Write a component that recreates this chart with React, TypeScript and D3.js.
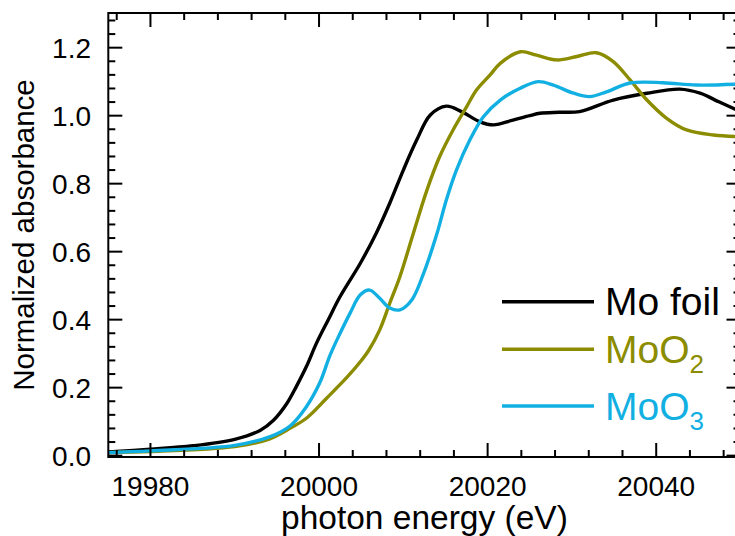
import React from "react";
import * as d3 from "d3";

// ---- data ----
const moFoilE = [19975, 19980, 19985, 19990, 19993, 19994.6, 19996.2, 19997.3, 19998.5, 19999.7, 20001.1, 20002.5, 20004.9, 20006.8, 20008.4, 20010.0, 20011.6, 20013.2, 20015.1, 20016.9, 20019.1, 20020.7, 20023.0, 20025.0, 20026.2, 20028.5, 20030.9, 20034.9, 20038.9, 20042.8, 20045.2, 20047.5, 20050];
const moFoilV = [0.011, 0.019, 0.029, 0.048, 0.074, 0.104, 0.154, 0.203, 0.262, 0.331, 0.4, 0.468, 0.566, 0.655, 0.743, 0.84, 0.929, 1.002, 1.028, 1.012, 0.982, 0.973, 0.987, 1.0, 1.007, 1.01, 1.012, 1.046, 1.066, 1.078, 1.066, 1.04, 1.012];

const moO2E = [19975, 19980, 19990, 19994, 19996.6, 19998.5, 20000.9, 20003.3, 20004.9, 20005.9, 20007.2, 20008.4, 20009.6, 20011.2, 20012.8, 20014.3, 20015.9, 20017.5, 20018.7, 20020.3, 20021.5, 20023.9, 20025.8, 20028.2, 20030.6, 20032.9, 20034.9, 20036.9, 20038.9, 20041.2, 20043.6, 20046.8, 20050];
const moO2V = [0.009, 0.012, 0.027, 0.048, 0.081, 0.11, 0.169, 0.23, 0.276, 0.31, 0.37, 0.449, 0.527, 0.655, 0.781, 0.879, 0.958, 1.026, 1.076, 1.12, 1.154, 1.188, 1.178, 1.164, 1.174, 1.185, 1.159, 1.105, 1.046, 0.993, 0.958, 0.943, 0.938];

const moO3E = [19975, 19980, 19990, 19994.2, 19996.6, 19998.5, 20000.1, 20001.3, 20002.5, 20003.7, 20004.9, 20006.0, 20007.2, 20008.4, 20009.6, 20011.0, 20012.4, 20014.0, 20015.1, 20016.3, 20017.9, 20019.5, 20021.5, 20023.8, 20026.0, 20027.8, 20030.2, 20032.1, 20034.1, 20036.9, 20040.8, 20044.8, 20050];
const moO3V = [0.009, 0.014, 0.03, 0.056, 0.088, 0.144, 0.215, 0.295, 0.36, 0.42, 0.473, 0.487, 0.463, 0.434, 0.429, 0.458, 0.536, 0.654, 0.752, 0.84, 0.929, 0.997, 1.046, 1.08, 1.1, 1.09, 1.066, 1.056, 1.07, 1.096, 1.097, 1.09, 1.093];

const seriesNames = ["Mo foil", "MoO", "MoO"];
const seriesSubs = ["", "2", "3"];
const seriesColors = ["#000000", "#8c8c00", "#12b0e2"];

const xMajorTicks = [19980, 20000, 20020, 20040];
const yMajorTicks = [0, 0.2, 0.4, 0.6, 0.8, 1.0, 1.2];
const xMinorStep = 4;
const yMinorStep = 0.04;

const W = 735;
const H = 536;
const FONT = "'Liberation Sans', Arial, Helvetica, sans-serif";

export default function App() {
  const x = d3.scaleLinear().domain([19975, 20050]).range([108.3, 740.5]);
  const y = d3.scaleLinear().domain([-0.004, 1.302]).range([457, 13]);

  const line = d3
    .line<[number, number]>()
    .x((d) => x(d[0]))
    .y((d) => y(d[1]))
    .curve(d3.curveCatmullRom.alpha(0.5));

  const series = [
    { e: moFoilE, v: moFoilV },
    { e: moO2E, v: moO2V },
    { e: moO3E, v: moO3V },
  ];

  const xMinor = d3.range(19976, 20050, xMinorStep).filter((t) => !xMajorTicks.includes(t));
  const yMinor = d3
    .range(0, 1.3, yMinorStep)
    .map((t) => +t.toFixed(2))
    .filter((t) => !yMajorTicks.some((m) => Math.abs(m - t) < 1e-6));

  const [x0, x1] = x.range();
  const [yb, yt] = y.range();
  const major = 14;
  const minor = 7;

  const legendY = [301.7, 349.3, 406];

  return (
    <svg
      width={W}
      height={H}
      style={{ position: "absolute", left: 0, top: 0, display: "block", background: "#fff" }}
      fontFamily={FONT}
    >
      <defs>
        <clipPath id="plot">
          <rect x={x0} y={yt} width={x1 - x0} height={yb - yt} />
        </clipPath>
      </defs>
      <rect x={0} y={0} width={W} height={H} fill="#fff" />

      {/* curves */}
      <g clipPath="url(#plot)">
        {series.map((s, i) => (
          <path
            key={i}
            d={line(s.e.map((e, j) => [e, s.v[j]] as [number, number])) || ""}
            fill="none"
            stroke={seriesColors[i]}
            strokeWidth={3.4}
            strokeLinejoin="round"
          />
        ))}
      </g>

      {/* frame */}
      <rect x={x0} y={yt} width={x1 - x0} height={yb - yt} fill="none" stroke="#000" strokeWidth={2} />

      {/* ticks on all four sides, pointing inward */}
      <g stroke="#000" strokeWidth={2}>
        {xMajorTicks.map((t) => (
          <g key={"xm" + t}>
            <line x1={x(t)} x2={x(t)} y1={yb} y2={yb - major} />
            <line x1={x(t)} x2={x(t)} y1={yt} y2={yt + major} />
          </g>
        ))}
        {xMinor.map((t) => (
          <g key={"xn" + t}>
            <line x1={x(t)} x2={x(t)} y1={yb} y2={yb - minor} />
            <line x1={x(t)} x2={x(t)} y1={yt} y2={yt + minor} />
          </g>
        ))}
        {yMajorTicks.map((t) => (
          <g key={"ym" + t}>
            <line x1={x0} x2={x0 + major} y1={y(t)} y2={y(t)} />
            <line x1={x1} x2={x1 - major} y1={y(t)} y2={y(t)} />
          </g>
        ))}
        {yMinor.map((t) => (
          <g key={"yn" + t}>
            <line x1={x0} x2={x0 + minor} y1={y(t)} y2={y(t)} />
            <line x1={x1} x2={x1 - minor} y1={y(t)} y2={y(t)} />
          </g>
        ))}
      </g>

      {/* tick labels */}
      <g fontSize={28} fill="#000">
        {xMajorTicks.map((t) => (
          <text key={"xl" + t} x={x(t)} y={496} textAnchor="middle">
            {t}
          </text>
        ))}
        {yMajorTicks.map((t) => (
          <text key={"yl" + t} x={91} y={y(t) + 10} textAnchor="end">
            {t.toFixed(1)}
          </text>
        ))}
      </g>

      {/* axis titles */}
      <text x={(x0 + x1) / 2} y={529} fontSize={33.5} textAnchor="middle" fill="#000">
        photon energy (eV)
      </text>
      <text
        transform={`translate(34,${(yt + yb) / 2}) rotate(-90)`}
        fontSize={29.5}
        textAnchor="middle"
        fill="#000"
      >
        Normalized absorbance
      </text>

      {/* legend */}
      {seriesNames.map((name, i) => (
        <g key={"lg" + i}>
          <line x1={502} x2={594} y1={legendY[i]} y2={legendY[i]} stroke={seriesColors[i]} strokeWidth={3.4} />
          <text x={605} y={legendY[i] + 13.5} fontSize={39} fill={seriesColors[i]}>
            {name}
            {seriesSubs[i] && (
              <tspan fontSize={26} dy={10}>
                {seriesSubs[i]}
              </tspan>
            )}
          </text>
        </g>
      ))}
    </svg>
  );
}
